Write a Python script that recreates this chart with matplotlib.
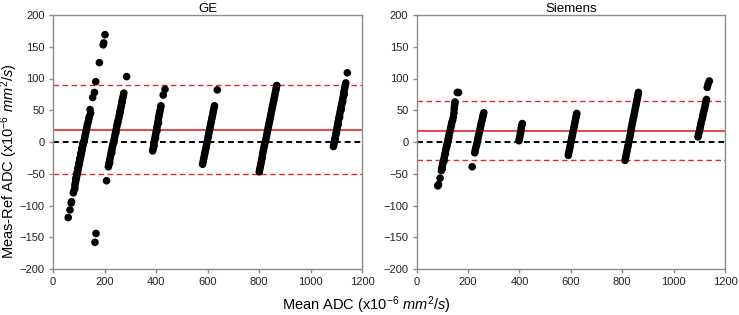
import matplotlib
matplotlib.use("Agg")
import matplotlib.pyplot as plt

plt.rcParams['font.family'] = ['Liberation Sans', 'DejaVu Sans']
plt.rcParams['mathtext.fontset'] = 'custom'
plt.rcParams['mathtext.it'] = 'Liberation Sans:italic'
plt.rcParams['mathtext.rm'] = 'Liberation Sans'

# ---------------- GE data (mean ADC, difference) ----------------
ge_x = [
    # cluster ~100
    85, 87, 89, 91, 93, 95, 97, 99, 101, 103, 105, 107, 109, 111, 113, 115, 117, 120,
    122, 124, 126, 128, 130, 132, 134, 137, 139, 141,
    88, 92, 96, 100, 104, 108, 112, 116,
    59, 66, 71, 72, 79, 82, 85,
    144, 146, 154, 161, 166, 180, 195, 197, 202, 163, 167,
    # cluster ~230
    215, 217, 219, 221, 223, 225, 227, 229, 231, 233, 236, 238, 240, 242, 244, 246,
    248, 250, 252, 255, 257, 259, 261, 263, 265, 267, 269, 271, 273, 275,
    220, 228, 236, 244, 252, 260, 268,
    208, 286,
    # cluster ~400
    387, 389, 391, 392, 394, 396, 398, 400, 401, 403, 405, 407, 409, 410, 412, 414, 416, 418, 419,
    392, 398, 404, 410,
    428, 435,
    # cluster ~600
    581, 583, 585, 587, 589, 591, 593, 595, 597, 599, 601, 603, 605, 607, 609, 611,
    613, 615, 617, 619, 621, 623, 625, 627,
    638,
    # cluster ~830
    801, 803, 805, 807, 809, 811, 813, 814, 816, 818, 820, 822, 825, 827, 829, 831, 833,
    835, 837, 839, 841, 843, 845, 847, 849, 851, 853, 855, 857, 859, 861, 863, 865, 867, 869,
    # cluster ~1110
    1089, 1091, 1093, 1095, 1097, 1099, 1101, 1103, 1104, 1106, 1108, 1110, 1112, 1114,
    1116, 1118, 1120, 1122, 1124, 1126, 1128, 1129, 1131, 1133, 1135, 1137,
    1095, 1101, 1107, 1113, 1119, 1125, 1131,
    1143,
]
ge_y = [
    -68, -64, -60, -56, -52, -48, -44, -40, -36, -32, -28, -24, -20, -16, -12, -8, -4, 0,
    4, 8, 12, 16, 20, 24, 28, 32, 36, 40,
    -58, -50, -42, -34, -26, -18, -10, -2,
    -119, -107, -96, -94, -80, -76, -73,
    51, 45, 70, 78, 95, 125, 153, 156, 169, -158, -144,
    -39, -35, -31, -27, -23, -19, -15, -11, -7, -3, 1, 5, 9, 13, 17, 21,
    25, 29, 33, 37, 41, 45, 49, 53, 57, 61, 65, 69, 73, 77,
    -33, -17, -1, 15, 31, 47, 63,
    -61, 103,
    -14, -10, -6, -2, 2, 6, 10, 14, 18, 22, 26, 30, 34, 38, 42, 46, 50, 54, 57,
    -6, 6, 18, 30,
    74, 83,
    -35, -31, -27, -23, -19, -15, -11, -7, -3, 1, 5, 9, 13, 17, 21, 25,
    29, 33, 37, 41, 45, 49, 53, 57,
    82,
    -47, -43, -39, -35, -31, -27, -23, -19, -15, -11, -7, -3, 1, 5, 9, 13, 17,
    21, 25, 29, 33, 37, 41, 45, 49, 53, 57, 61, 65, 69, 73, 77, 81, 85, 89,
    -7, -3, 1, 5, 9, 13, 17, 21, 25, 29, 33, 37, 41, 45,
    49, 53, 57, 61, 65, 69, 73, 77, 81, 85, 89, 93,
    3, 15, 27, 39, 51, 63, 75,
    109,
]

# ---------------- Siemens data ----------------
si_x = [
    82, 85, 91,
    96, 98, 100, 102, 105, 107, 109, 111, 113, 115, 117, 120, 122, 124, 126, 128, 131,
    133, 135, 137, 140,
    100, 106, 112, 118, 124,
    143, 145, 146, 147, 148, 149, 158, 163,
    226, 228, 230, 233, 235, 237, 239, 241, 244, 246, 248, 250, 252, 255, 257, 259, 261,
    216,
    398, 400, 402, 404, 406, 407, 409, 411,
    590, 592, 594, 596, 598, 600, 602, 604, 606, 608, 610, 612, 614, 616, 618, 620, 622, 623,
    811, 813, 815, 817, 819, 821, 823, 825, 827, 829, 831, 833, 834, 836, 838, 840,
    842, 844, 846, 848, 850, 852, 854, 856, 858, 860, 862, 863,
    1095, 1097, 1100, 1102, 1104, 1106, 1108, 1111, 1113, 1115, 1117, 1120, 1122, 1124,
    1126, 1128, 1131, 1134, 1139,
]
si_y = [
    -69, -67, -57,
    -45, -41, -37, -33, -29, -25, -21, -17, -13, -9, -5, -1, 3, 7, 11, 15, 19,
    23, 27, 31, 35,
    -42, -30, -18, -6, 6,
    40, 46, 52, 56, 60, 63, 78, 78,
    -17, -13, -9, -5, -1, 3, 7, 11, 15, 19, 23, 27, 31, 35, 39, 43, 46,
    -39,
    2, 6, 10, 14, 18, 22, 26, 29,
    -21, -17, -13, -9, -5, -1, 3, 7, 11, 15, 19, 23, 27, 31, 35, 39, 43, 45,
    -29, -25, -21, -17, -13, -9, -5, -1, 3, 7, 11, 15, 19, 23, 27, 31,
    35, 39, 43, 47, 51, 55, 59, 63, 67, 71, 75, 78,
    8, 12, 16, 20, 24, 28, 32, 36, 40, 44, 48, 52, 56, 60,
    64, 67, 86, 91, 96,
]

panels = ["GE", "Siemens"]
mean_diff = [19, 18]
upper_loa = [89, 65]
lower_loa = [-51, -28]

xticks = [0, 200, 400, 600, 800, 1000, 1200]
yticks = [-200, -150, -100, -50, 0, 50, 100, 150, 200]

fig = plt.figure(figsize=(7.39, 3.15), dpi=100)
ax1 = fig.add_axes([53 / 739, 1 - 269 / 315, (362 - 53) / 739, (269 - 15) / 315])
ax2 = fig.add_axes([416.7 / 739, 1 - 269 / 315, (725 - 416.7) / 739, (269 - 15) / 315])

spine_c = '#8c8c8c'
for ax, name, xs, ys, m, up, lo in zip([ax1, ax2], panels, [ge_x, si_x], [ge_y, si_y],
                                      mean_diff, upper_loa, lower_loa):
    ax.axhline(0, color='black', linestyle='--', linewidth=1.4, zorder=1, dashes=(3, 2))
    ax.axhline(m, color='#e8262a', linestyle='-', linewidth=1.2, zorder=1)
    ax.axhline(up, color='#e8262a', linestyle='--', linewidth=1.0, zorder=1, dashes=(4, 2.5))
    ax.axhline(lo, color='#e8262a', linestyle='--', linewidth=1.0, zorder=1, dashes=(4, 2.5))
    ax.scatter(xs, ys, s=30, color='black', edgecolors='none', zorder=3)
    ax.set_xlim(0, 1200)
    ax.set_ylim(-200, 200)
    ax.set_xticks(xticks)
    ax.set_yticks(yticks)
    ax.set_title(name, fontsize=9.5, pad=2.5)
    for sp in ax.spines.values():
        sp.set_color(spine_c)
        sp.set_linewidth(1.0)
    ax.tick_params(colors=spine_c, labelcolor='#222222', labelsize=8, length=3, width=1.0, pad=3)

fig.text(9.5 / 739, 1 - 161 / 315, r'Meas-Ref ADC (x10$^{-6}$ $mm^2/s$)', fontsize=10.5,
         ha='center', va='center', rotation=90)
fig.text(366 / 739, 1 - 305 / 315, r'Mean ADC (x10$^{-6}$ $mm^2/s$)', fontsize=10.5,
         ha='center', va='center')

fig.savefig('out.png', dpi=100)
